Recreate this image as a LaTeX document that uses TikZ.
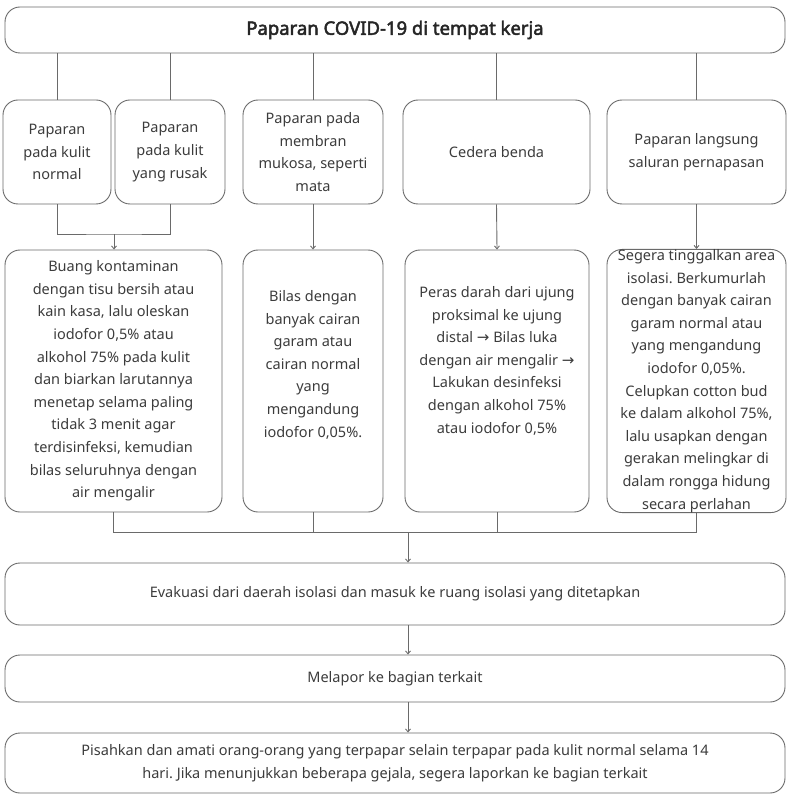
\documentclass[tikz,border=0pt]{standalone}
\usepackage{fontspec}
\setmainfont{Noto Sans}
\newfontfamily\titlefont{Noto Sans}[FakeBold=2.6]
\newfontfamily\symfont{DejaVu Sans}
\usetikzlibrary{arrows.meta}
\definecolor{lc}{HTML}{6A6A6A}
\definecolor{tc}{HTML}{3C3C3C}
\newcommand{\rarr}{{\symfont\fontsize{15}{22.6}\selectfont →}}
\frenchspacing
\begin{document}
\begin{tikzpicture}[x=1pt,y=-1pt,
  bx/.style={draw=lc,line width=0.9pt,rounded corners=15pt,text=tc,align=center,inner sep=0pt,
    font=\fontsize{14.5}{22.6}\selectfont\frenchspacing},
  ln/.style={draw=lc,line width=0.9pt},
  ar/.style={ln,-{Straight Barb[length=3pt,width=5pt]}}]
\useasboundingbox (0,0) rectangle (789,799);
% top
\node[bx,minimum width=780pt,minimum height=46pt,font=\titlefont\fontsize{18.5}{22}\selectfont,text=black!85] (top) at (395,30) {Paparan COVID-19 di tempat kerja};
% row 1
\node[bx,minimum width=108pt,minimum height=104pt] (a1) at (57,152) {Paparan\\pada kulit\\normal};
\node[bx,minimum width=110pt,minimum height=104pt] (b1) at (170,152) {Paparan\\pada kulit\\yang rusak};
\node[bx,minimum width=140pt,minimum height=104pt] (c1) at (313,152) {Paparan pada\\membran\\mukosa, seperti\\mata};
\node[bx,minimum width=187pt,minimum height=104pt] (d1) at (496.5,152) {Cedera benda};
\node[bx,minimum width=179pt,minimum height=104pt] (e1) at (696.5,152) {Paparan langsung\\saluran pernapasan};
% row 2
\node[bx,minimum width=217pt,minimum height=262pt] (a2) at (113.5,381) {Buang kontaminan\\dengan tisu bersih atau\\kain kasa, lalu oleskan\\iodofor 0,5\% atau\\alkohol 75\% pada kulit\\dan biarkan larutannya\\menetap selama paling\\tidak 3 menit agar\\terdisinfeksi, kemudian\\bilas seluruhnya dengan\\air mengalir};
\node[bx,minimum width=140pt,minimum height=262pt] (b2) at (313,381) {Bilas dengan\\banyak cairan\\garam atau\\cairan normal\\yang\\mengandung\\iodofor 0,05\%.\\[12pt]};
\node[bx,minimum width=184pt,minimum height=262pt] (c2) at (497,381) {Peras darah dari ujung\\proksimal ke ujung\\distal \rarr{} Bilas luka\\dengan air mengalir \rarr\\Lakukan desinfeksi\\dengan alkohol 75\%\\atau iodofor 0,5\%\\[20pt]};
\node[bx,minimum width=179pt,minimum height=262pt] (d2) at (696.5,381) {Segera tinggalkan area\\isolasi. Berkumurlah\\dengan banyak cairan\\garam normal atau\\yang mengandung\\iodofor 0,05\%.\\Celupkan cotton bud\\ke dalam alkohol 75\%,\\lalu usapkan dengan\\gerakan melingkar di\\dalam rongga hidung\\secara perlahan};
% row 3
\node[bx,minimum width=780pt,minimum height=62pt] (ev) at (395,594) {Evakuasi dari daerah isolasi dan masuk ke ruang isolasi yang ditetapkan};
\node[bx,minimum width=780pt,minimum height=47pt] (rp) at (395,678.5) {Melapor ke bagian terkait};
\node[bx,minimum width=780pt,minimum height=60pt] (fn) at (395,763) {Pisahkan dan amati orang-orang yang terpapar selain terpapar pada kulit normal selama 14\\hari. Jika menunjukkan beberapa gejala, segera laporkan ke bagian terkait};
% connectors top
\draw[ln] (top.south -| a1) -- (a1.north);
\draw[ln] (top.south -| b1) -- (b1.north);
\draw[ln] (top.south -| c1) -- (c1.north);
\draw[ln] (top.south -| d1) -- (d1.north);
\draw[ln] (top.south -| e1) -- (e1.north);
% merge a1 b1
\coordinate (m1) at (114,234);
\draw[ln] (a1.south) |- (m1) -| (b1.south);
\draw[ar] (m1) -- (m1 |- a2.north);
\draw[ar] (c1.south) -- (b2.north);
\draw[ar] (d1.south) -- (c2.north);
\draw[ar] (e1.south) -- (d2.north);
% merge row 2
\coordinate (m2) at (408,532);
\draw[ln] (a2.south) |- (m2);
\draw[ln] (b2.south) -- (b2.south |- m2);
\draw[ln] (c2.south) -- (c2.south |- m2);
\draw[ln] (d2.south) |- (m2);
\draw[ar] (m2) -- (m2 |- ev.north);
\draw[ar] (ev.south -| m2) -- (rp.north -| m2);
\draw[ar] (rp.south -| m2) -- (fn.north -| m2);
\end{tikzpicture}
\end{document}
